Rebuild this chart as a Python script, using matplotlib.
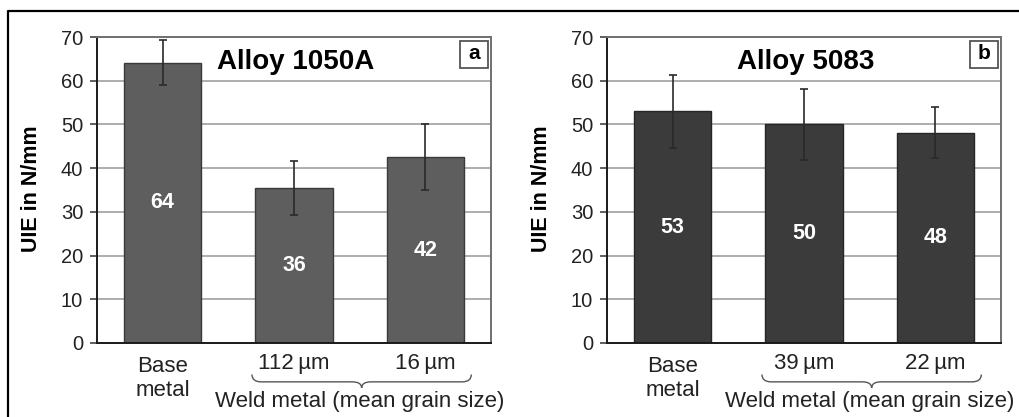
import matplotlib
matplotlib.use("Agg")
import matplotlib.pyplot as plt
from matplotlib.path import Path
from matplotlib.patches import PathPatch, Rectangle
import matplotlib.transforms as mtransforms
import matplotlib.lines as mlines

plt.rcParams['font.family'] = ['Liberation Sans', 'DejaVu Sans']

# ---- data ----
titles = ["Alloy 1050A", "Alloy 5083"]
panel_tags = ["a", "b"]
cats_a = ["Base\nmetal", "112\u2009\u00b5m", "16\u2009\u00b5m"]
cats_b = ["Base\nmetal", "39\u2009\u00b5m", "22\u2009\u00b5m"]
vals_a = [64.1, 35.5, 42.5]
vals_b = [53.0, 50.0, 48.1]
err_a = [5.1, 6.2, 7.6]
err_b = [8.3, 8.2, 5.8]
labels_a = ["64", "36", "42"]
labels_b = ["53", "50", "48"]
group_label = "Weld metal (mean grain size)"
yticks = [0, 10, 20, 30, 40, 50, 60, 70]
ylabel = "UIE in N/mm"

W, H = 1020, 417
fig = plt.figure(figsize=(W / 100, H / 100), dpi=100)

# outer frame (top and left)
fig.add_artist(mlines.Line2D([8 / W, 8 / W, 1.0], [0.0, 1 - 11 / H, 1 - 11 / H],
                             transform=fig.transFigure, color='black', lw=1.6))

panels = [
    (97, cats_a, vals_a, err_a, labels_a, '#5e5e5e', '#3a3a3a'),
    (607, cats_b, vals_b, err_b, labels_b, '#3b3b3b', '#262626'),
]

def draw_brace(ax, x0, x1, ytop, ymid, ybot, color='#555555'):
    trans = mtransforms.blended_transform_factory(ax.transData, ax.transAxes)
    xc = (x0 + x1) / 2
    r = 0.07
    verts = [
        (x0, ytop), (x0, ymid), (x0 + r, ymid),
        (xc - r, ymid),
        (xc, ymid), (xc, ybot),
        (xc, ymid), (xc + r, ymid),
        (x1 - r, ymid),
        (x1, ymid), (x1, ytop),
    ]
    codes = [Path.MOVETO, Path.CURVE3, Path.CURVE3,
             Path.LINETO,
             Path.CURVE3, Path.CURVE3,
             Path.CURVE3, Path.CURVE3,
             Path.LINETO,
             Path.CURVE3, Path.CURVE3]
    patch = PathPatch(Path(verts, codes), facecolor='none', edgecolor=color,
                      lw=1.0, transform=trans, clip_on=False)
    ax.add_patch(patch)

for i, (left_px, cats, vals, errs, labs, fc, ec) in enumerate(panels):
    ax = fig.add_axes([left_px / W, 1 - 343 / H, 394 / W, 306 / H])
    x = list(range(len(cats)))
    ax.bar(x, vals, width=0.59, color=fc, edgecolor=ec, linewidth=1.0, zorder=2)
    ax.errorbar(x, vals, yerr=errs, fmt='none', ecolor='#2a2a2a', elinewidth=1.2,
                capsize=3, capthick=1.2, zorder=3)
    for xi, v, lab in zip(x, vals, labs):
        ax.text(xi, v / 2, lab, color='white', fontsize=15.5, fontweight='bold',
                ha='center', va='center', zorder=4)
    ax.set_xlim(-0.5, 2.5)
    ax.set_ylim(0, 70)
    ax.set_yticks(yticks)
    ax.set_yticklabels([str(t) for t in yticks], fontsize=14.5, color='#222222')
    ax.tick_params(axis='y', direction='out', length=5, width=1.2, color='#444444', pad=5)
    ax.set_xticks([])
    ax.yaxis.grid(True, color='#a0a0a0', lw=1.2, zorder=0)
    ax.set_axisbelow(True)
    for s in ['left', 'bottom']:
        ax.spines[s].set_color('#1a1a1a')
        ax.spines[s].set_linewidth(1.4)
    for s in ['top', 'right']:
        ax.spines[s].set_color('#707070')
        ax.spines[s].set_linewidth(1.4)

    ax.text(1.01, 64.3, titles[i], fontsize=20, fontweight='bold', ha='center',
            va='center', color='black')
    ax.add_patch(Rectangle((0.921, 0.898), 0.071, 0.09, transform=ax.transAxes,
                           facecolor='white', edgecolor='#555555', lw=1.3, zorder=5))
    ax.text(0.9565, 0.945, panel_tags[i], transform=ax.transAxes, fontsize=15,
            fontweight='bold', ha='center', va='center', zorder=6)

    ax.text(-0.165, 0.503, ylabel, transform=ax.transAxes, rotation=90,
            fontsize=15.5, fontweight='bold', ha='center', va='center')

    trans = mtransforms.blended_transform_factory(ax.transData, ax.transAxes)
    ax.text(0, -0.117, cats[0], transform=trans, fontsize=16, ha='center', va='center',
            color='#222222', linespacing=1.2)
    for xi in (1, 2):
        ax.text(xi, -0.068, cats[xi], transform=trans, fontsize=16, ha='center',
                va='center', color='#222222')
    draw_brace(ax, 0.68, 2.35, -0.103, -0.127, -0.147)
    ax.text(1.5, -0.19, group_label, transform=trans, fontsize=16, ha='center',
            va='center', color='#222222')

fig.savefig("out.png", dpi=100)
